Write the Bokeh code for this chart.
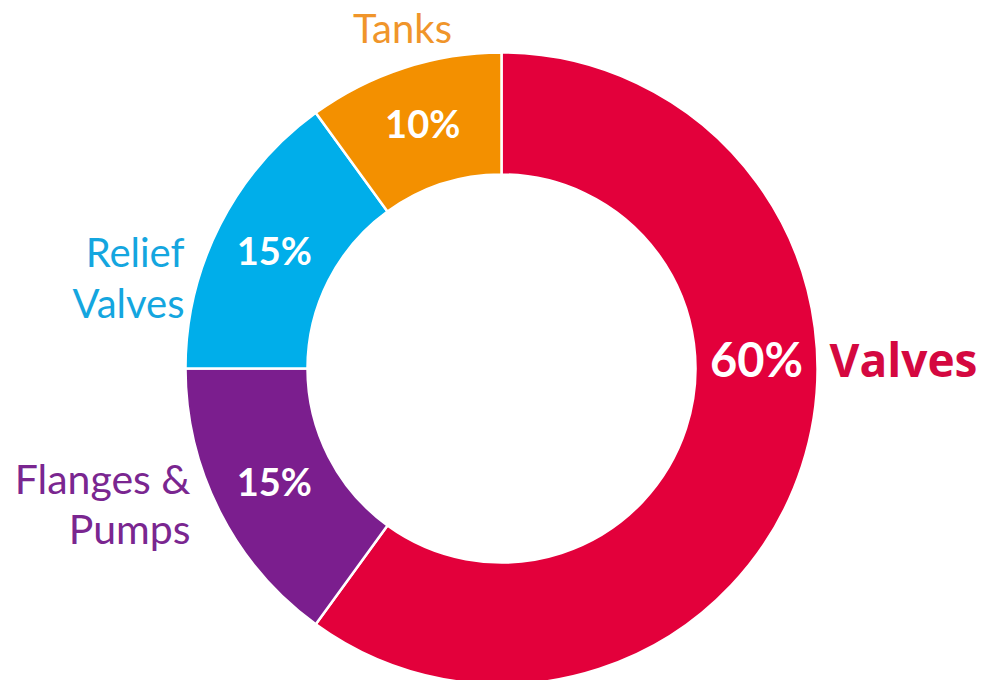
import numpy as np
from bokeh.plotting import figure
from bokeh.models import Range1d
from bokeh.core.properties import value
from bokeh.embed import file_html
from bokeh.resources import INLINE

# ---- data ----
categories = ["Valves", "Flanges & Pumps", "Relief Valves", "Tanks"]
shares = [60, 15, 15, 10]
pct_labels = ["60%", "15%", "15%", "10%"]
colors = ["#E3003B", "#7B1E8E", "#00AEEA", "#F39000"]
text_colors = ["#D40840", "#7A2690", "#14A6DF", "#F0952A"]

# ---- layout (pixel units) ----
W, H = 984, 680
CX, CY = 501, 368          # centre in screen pixels (y down)
R_OUT, R_IN = 316, 194
FONT = value("Lato")
DY = -3                    # optical correction for 'middle' baseline

def sy(y):  # screen y -> data y
    return H - y

p = figure(width=W, height=H, x_range=Range1d(0, W), y_range=Range1d(0, H),
           output_backend="svg", toolbar_location=None, min_border=0)
p.axis.visible = False
p.grid.visible = False
p.outline_line_color = None
p.background_fill_color = "white"
p.border_fill_color = "white"

# wedges: start at 12 o'clock, going clockwise
cum = np.cumsum([0] + shares)
ends = [np.deg2rad(90 - 3.6 * c) for c in cum[:-1]]
starts = [np.deg2rad(90 - 3.6 * c) for c in cum[1:]]
p.annular_wedge(x=[CX] * 4, y=[sy(CY)] * 4, inner_radius=R_IN, outer_radius=R_OUT,
                start_angle=starts, end_angle=ends, fill_color=colors,
                line_color="white", line_width=2.5)

# percentage labels inside ring
mid = [(s + e) / 2 for s, e in zip(starts, ends)]
mid[0] = np.deg2rad(1.4)  # Valves label sits near 3 o'clock
rm = (R_IN + R_OUT) / 2
px = [CX + rm * np.cos(a) for a in mid]
py = [sy(CY) + rm * np.sin(a) - DY for a in mid]
sizes = ["47px", "38px", "38px", "38px"]
for i in range(4):
    p.text(x=[px[i]], y=[py[i]], text=[pct_labels[i]], text_color="white",
           text_font=FONT, text_font_style="bold", text_font_size=sizes[i],
           text_align="center", text_baseline="middle")

# category labels (positions = cap-centre in screen px)
def label(xs, ys, txt, color, size, align, font=FONT, style="normal"):
    p.text(x=xs, y=[sy(y + DY) for y in ys], text=txt, text_color=color,
           text_font=font, text_font_style=style, text_font_size=size,
           text_align=align, text_baseline="middle")

label([829], [361], ["Valves"], text_colors[0], "46px", "left",
      font=value("Open Sans"), style="bold")
label([190, 190], [481, 531], ["Flanges &", "Pumps"], text_colors[1], "41px", "right")
label([184, 184], [254, 305], ["Relief", "Valves"], text_colors[2], "40px", "right")
label([402], [30], ["Tanks"], text_colors[3], "40px", "center")

open("out.html", "w").write(file_html(p, INLINE))
